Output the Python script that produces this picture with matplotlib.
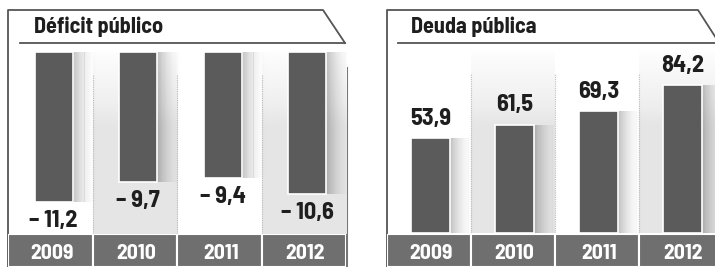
import numpy as np
import matplotlib.pyplot as plt

years = ["2009", "2010", "2011", "2012"]
deficit = [-11.2, -9.7, -9.4, -10.6]
deficit_labels = ["\u2013 11,2", "\u2013 9,7", "\u2013 9,4", "\u2013 10,6"]
deuda = [53.9, 61.5, 69.3, 84.2]
deuda_labels = ["53,9", "61,5", "69,3", "84,2"]

FONT = ["Barlow Semi Condensed", "DejaVu Sans"]
BAR = "#5b5b5b"
STRIP = "#6f6f6f"
W, H = 715, 267

fig = plt.figure(figsize=(W / 100, H / 100), dpi=100)
fig.patch.set_facecolor("white")


def px_axes(x0, y0, x1, y1):
    # axes placed by pixel box (top-left origin)
    return fig.add_axes([x0 / W, 1 - y1 / H, (x1 - x0) / W, (y1 - y0) / H])


# background drawing layer in pixel coordinates
bg = px_axes(0, 0, W, H)
bg.set_xlim(0, W)
bg.set_ylim(H, 0)
bg.axis("off")

grad = np.linspace(0, 1, 200)
grad = np.clip(grad / 0.4, 0, 1)[:, None]


def panel(ax, ncol_visible):
    ax.set_xlim(-0.5, -0.5 + ncol_visible)
    ax.axis("off")
    # shaded columns for 2010 and 2012
    for i in (1, 3):
        ax.imshow(grad, extent=(i - 0.5, i + 0.5, 0, 1), transform=ax.get_xaxis_transform(),
                  cmap="Greys", vmin=-0.1, vmax=6.0, aspect="auto", zorder=0,
                  origin="upper")
    for i in (0.5, 1.5, 2.5):
        ax.plot([i, i], [0, 0.88], transform=ax.get_xaxis_transform(),
                color="#bdbdbd", lw=0.8, ls=(0, (1, 1)), zorder=1)


def shadow(ax, xs, vals, width):
    # soft shadow to the right of each bar
    n = 30
    step = 0.01
    for k in range(n):
        ax.bar(xs + width / 2 + k * step, vals, width=step * 1.05, align="edge",
               color="black", alpha=0.24 * (1 - k / n) ** 2, zorder=2, lw=0)


# ---- Déficit público ----
ax1 = px_axes(8, 52, 346, 234)
ax1.set_ylim(-13.6, 0)
panel(ax1, 4)
xs = np.arange(4) + 0.04
shadow(ax1, xs, deficit, 0.45)
ax1.bar(xs, deficit, width=0.45, color=BAR, edgecolor="white", lw=1.2, zorder=3)
for x, v, s in zip(xs, deficit, deficit_labels):
    ax1.annotate(s, (x, v), xytext=(0, -14), textcoords="offset points",
                 ha="center", va="center", fontsize=17.5, fontweight="bold",
                 family=FONT, color="#1e1e1e", zorder=4)

# ---- Deuda pública ----
ax2 = px_axes(387, 52, 715, 233)
ax2.set_ylim(0, 103)
panel(ax2, 328 / 84)
xs2 = np.arange(4) + 0.02
shadow(ax2, xs2, deuda, 0.46)
ax2.bar(xs2, deuda, width=0.46, color=BAR, edgecolor="white", lw=1.2, zorder=3)
for x, v, s in zip(xs2, deuda, deuda_labels):
    ax2.annotate(s, (x, v), xytext=(0, 14), textcoords="offset points",
                 ha="center", va="center", fontsize=17.5, fontweight="bold",
                 family=FONT, color="#1e1e1e", zorder=4)

# ---- year strips ----
for x0, x1, ncol in [(8, 346, 4), (387, 715, 328 / 84)]:
    st = px_axes(x0, 234, x1, 267)
    st.set_xlim(-0.5, -0.5 + ncol)
    st.set_ylim(0, 1)
    st.axis("off")
    st.bar(range(4), [1] * 4, width=1, bottom=0, color=STRIP, edgecolor="white", lw=1.5)
    for i, y in enumerate(years):
        st.text(i + 0.02, 0.42, y, ha="center", va="center", color="white",
                fontsize=15.5, fontweight="bold", family=FONT)

# ---- title boxes ----
frame = dict(color="#555555", lw=1.3)
bg.plot([8, 8, 323, 345], [267, 10, 10, 43], **frame)
bg.plot([20, 345], [43, 43], **frame)
bg.plot([347, 347], [68, 267], color="#777777", lw=1.5)
bg.plot([387, 387, 698, 716], [267, 10, 10, 38], **frame)
bg.plot([398, 715], [43, 43], **frame)
bg.text(34, 27, "D\u00e9ficit p\u00fablico", ha="left", va="center", fontsize=16,
        fontweight="bold", family=FONT, color="#1e1e1e")
bg.text(411, 27, "Deuda p\u00fablica", ha="left", va="center", fontsize=16,
        fontweight="bold", family=FONT, color="#1e1e1e")

fig.savefig("out.png", dpi=100)
